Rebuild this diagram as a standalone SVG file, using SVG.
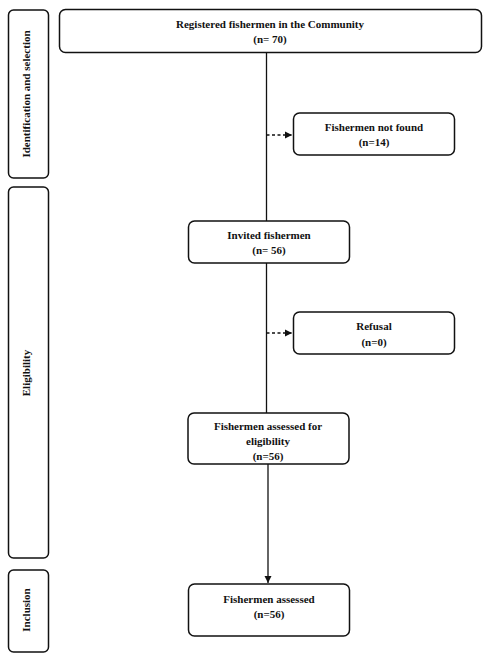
<svg xmlns="http://www.w3.org/2000/svg" width="485" height="661" viewBox="0 0 485 661">
<style>
.box{fill:#fff;stroke:#111;stroke-width:1.5}
.t{font-family:"Liberation Serif","Times New Roman",serif;font-weight:bold;font-size:11px;fill:#111;text-anchor:middle}
.c{stroke:#111;stroke-width:1.3;fill:none}
.d{stroke-dasharray:3,2.5}
</style>
<defs>
<marker id="ah" markerWidth="8" markerHeight="8" refX="7" refY="4" orient="auto" markerUnits="userSpaceOnUse">
<path d="M0,0.5 L7,4 L0,7.5 Z" fill="#111"/>
</marker>
</defs>
<rect width="485" height="661" fill="#fff"/>
<g id="phase-identification">
<rect class="box" x="8.5" y="10" width="40" height="168" rx="5"/>
<text class="t" transform="translate(25.5,94) rotate(-90)" dy="4">Identification and selection</text>
</g>
<g id="phase-eligibility">
<rect class="box" x="8.5" y="187" width="40" height="371" rx="5"/>
<text class="t" transform="translate(25.5,373) rotate(-90)" dy="4">Eligibility</text>
</g>
<g id="phase-inclusion">
<rect class="box" x="8.5" y="570" width="40" height="82" rx="5"/>
<text class="t" transform="translate(25.5,610) rotate(-90)" dy="4">Inclusion</text>
</g>
<g id="connectors">
<line class="c" x1="266.5" y1="53" x2="266.5" y2="221"/>
<line class="c d" x1="266.5" y1="135" x2="292" y2="135" marker-end="url(#ah)"/>
<line class="c" x1="266.5" y1="263" x2="266.5" y2="413"/>
<line class="c d" x1="266.5" y1="333" x2="292" y2="333" marker-end="url(#ah)"/>
<line class="c" x1="268" y1="464" x2="268" y2="583" marker-end="url(#ah)"/>
</g>
<g id="registered">
<rect class="box" x="59.5" y="9.5" width="422" height="43" rx="6"/>
<text class="t" x="270" y="28">Registered fishermen in the Community</text>
<text class="t" x="270" y="43">(n= 70)</text>
</g>
<g id="not-found">
<rect class="box" x="293.5" y="113" width="161" height="42" rx="6"/>
<text class="t" x="374" y="131">Fishermen not found</text>
<text class="t" x="374" y="146">(n=14)</text>
</g>
<g id="invited">
<rect class="box" x="188.5" y="221" width="161" height="42" rx="6"/>
<text class="t" x="269" y="239">Invited fishermen</text>
<text class="t" x="269" y="254">(n= 56)</text>
</g>
<g id="refusal">
<rect class="box" x="293.5" y="312" width="161" height="42" rx="6"/>
<text class="t" x="374" y="330">Refusal</text>
<text class="t" x="374" y="346">(n=0)</text>
</g>
<g id="assessed-eligibility">
<rect class="box" x="188" y="413" width="161" height="51" rx="6"/>
<text class="t" x="268" y="430">Fishermen assessed for</text>
<text class="t" x="268" y="445">eligibility</text>
<text class="t" x="268" y="460">(n=56)</text>
</g>
<g id="assessed">
<rect class="box" x="188.5" y="584" width="161" height="52" rx="6"/>
<text class="t" x="269" y="603">Fishermen assessed</text>
<text class="t" x="269" y="618">(n=56)</text>
</g>
</svg>
